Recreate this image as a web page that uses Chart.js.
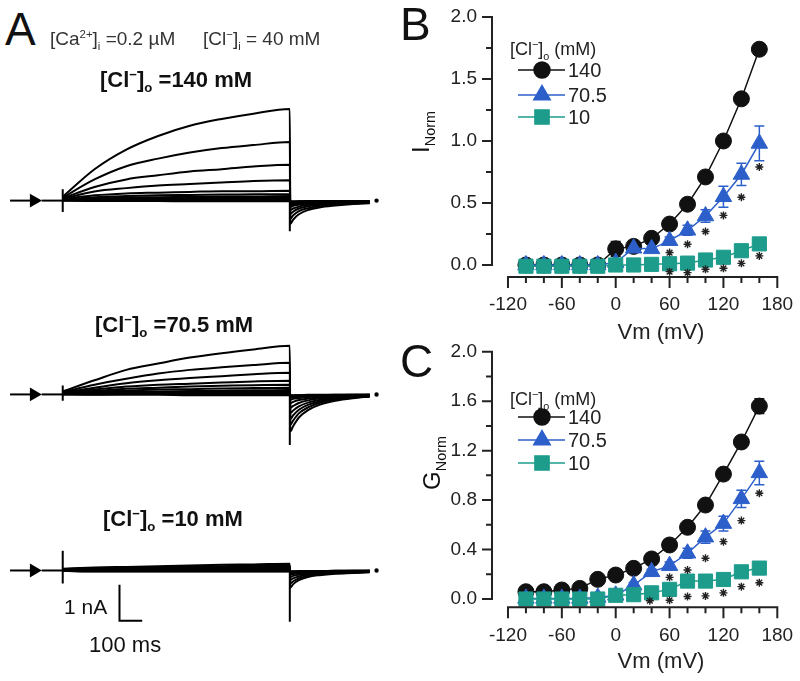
<!DOCTYPE html>
<html>
<head>
<meta charset="utf-8">
<script src="https://cdn.jsdelivr.net/npm/chart.js@4.4.1/dist/chart.umd.min.js"></script>
<style>
  body { margin: 0; background: #fff; }
  #fig { position: relative; width: 800px; height: 681px; overflow: hidden;
         font-family: 'Liberation Sans', Arial, sans-serif; color: #111; }
  #fig canvas { position: absolute; }
  .t { position: absolute; white-space: nowrap; line-height: 1; }
  .t sub, .t sup { font-size: 0.6em; line-height: 0; }
  .rot { transform: translate(-50%, -50%) rotate(-90deg); }
  .ctr { transform: translateX(-50%); }
</style>
</head>
<body>
<div id="fig">
  <canvas id="a140" width="400" height="160" style="left:0;top:90px"></canvas>
  <canvas id="a70" width="400" height="140" style="left:0;top:320px"></canvas>
  <canvas id="a10" width="400" height="110" style="left:0;top:530px"></canvas>
  <canvas id="chartB" width="400" height="340" style="left:400px;top:0"></canvas>
  <canvas id="chartC" width="400" height="341" style="left:400px;top:340px"></canvas>

  <div class="t" style="left:5px;top:6px;font-size:46px">A</div>
  <div class="t" style="left:50px;top:29px;font-size:19px;color:#333">[Ca<sup>2+</sup>]<sub>i</sub> =0.2 µM</div>
  <div class="t" style="left:203px;top:29px;font-size:19px;color:#333">[Cl<sup>−</sup>]<sub>i</sub> = 40 mM</div>
  <div class="t" style="left:100px;top:69px;font-size:22px;font-weight:bold">[Cl<sup>−</sup>]<sub>o</sub> =140 mM</div>
  <div class="t" style="left:95px;top:314px;font-size:22px;font-weight:bold">[Cl<sup>−</sup>]<sub>o</sub> =70.5 mM</div>
  <div class="t" style="left:103px;top:508px;font-size:22px;font-weight:bold">[Cl<sup>−</sup>]<sub>o</sub> =10 mM</div>
  <div class="t" style="left:64px;top:596px;font-size:21px">1 nA</div>
  <div class="t" style="left:89px;top:634px;font-size:22px">100 ms</div>

  <div class="t" style="left:400px;top:1px;font-size:46px">B</div>
  <div class="t" style="left:510px;top:40px;font-size:18px;color:#222">[Cl<sup>−</sup>]<sub>o</sub> (mM)</div>
  <div class="t rot" style="left:421px;top:132px;font-size:24px">I<sub>Norm</sub></div>
  <div class="t ctr" style="left:661px;top:321px;font-size:22px;color:#222">Vm (mV)</div>

  <div class="t" style="left:400px;top:338px;font-size:46px">C</div>
  <div class="t" style="left:510px;top:390px;font-size:18px;color:#222">[Cl<sup>−</sup>]<sub>o</sub> (mM)</div>
  <div class="t rot" style="left:432px;top:463px;font-size:24px">G<sub>Norm</sub></div>
  <div class="t ctr" style="left:661px;top:650px;font-size:22px;color:#222">Vm (mV)</div>
</div>

<script>
Chart.defaults.font.family = "'Liberation Sans', Arial, sans-serif";
Chart.defaults.animation = false;

// ---------- panel A: current traces (time in ms, current in nA) ----------
const stepTimes = [0, 140, 280, 420, 560, 700, 840, 1000];
const tailTimes = [1002, 1015, 1040, 1080, 1130, 1200, 1280, 1352];

const step140 = [
  [0.10, 0.83, 1.35, 1.71, 1.98, 2.16, 2.30, 2.42],
  [0.08, 0.56, 0.91, 1.11, 1.27, 1.39, 1.47, 1.55],
  [0.06, 0.36, 0.56, 0.67, 0.77, 0.83, 0.90, 0.95],
  [0.05, 0.24, 0.33, 0.40, 0.44, 0.48, 0.52, 0.54],
  [0.04, 0.14, 0.19, 0.21, 0.23, 0.25, 0.25, 0.26],
  [0.03, 0.09, 0.12, 0.14, 0.15, 0.16, 0.17, 0.17],
  [0.02, 0.06, 0.08, 0.09, 0.10, 0.11, 0.11, 0.12],
  [0.02, 0.04, 0.05, 0.06, 0.07, 0.07, 0.08, 0.08],
  [0.01, 0.03, 0.03, 0.04, 0.04, 0.05, 0.05, 0.05],
  [0.01, 0.01, 0.02, 0.02, 0.02, 0.03, 0.03, 0.03],
  [0.00, 0.00, 0.01, 0.01, 0.01, 0.01, 0.01, 0.01],
  [0.00, -0.01, -0.01, -0.01, -0.02, -0.02, -0.02, -0.02]
];
const tail140 = [
  [-0.62, -0.50, -0.36, -0.25, -0.18, -0.13, -0.09, -0.07],
  [-0.48, -0.39, -0.28, -0.20, -0.14, -0.10, -0.08, -0.06],
  [-0.35, -0.29, -0.21, -0.15, -0.11, -0.08, -0.06, -0.05],
  [-0.25, -0.21, -0.16, -0.11, -0.08, -0.06, -0.05, -0.04],
  [-0.17, -0.14, -0.11, -0.08, -0.06, -0.05, -0.04, -0.03],
  [-0.12, -0.10, -0.08, -0.06, -0.05, -0.04, -0.03, -0.03],
  [-0.09, -0.08, -0.06, -0.05, -0.04, -0.03, -0.03, -0.02],
  [-0.07, -0.06, -0.05, -0.04, -0.03, -0.03, -0.02, -0.02],
  [-0.05, -0.05, -0.04, -0.03, -0.03, -0.02, -0.02, -0.02],
  [-0.04, -0.04, -0.03, -0.03, -0.02, -0.02, -0.02, -0.01],
  [-0.03, -0.03, -0.02, -0.02, -0.02, -0.01, -0.01, -0.01],
  [-0.02, -0.02, -0.02, -0.01, -0.01, -0.01, -0.01, -0.01]
];

const step70 = [
  [0.08, 0.38, 0.66, 0.83, 0.99, 1.11, 1.21, 1.31],
  [0.06, 0.26, 0.42, 0.56, 0.66, 0.73, 0.79, 0.85],
  [0.05, 0.18, 0.30, 0.38, 0.44, 0.49, 0.54, 0.58],
  [0.04, 0.13, 0.21, 0.26, 0.29, 0.32, 0.35, 0.37],
  [0.03, 0.09, 0.15, 0.18, 0.21, 0.23, 0.25, 0.26],
  [0.03, 0.07, 0.10, 0.13, 0.14, 0.16, 0.17, 0.18],
  [0.02, 0.05, 0.07, 0.08, 0.09, 0.10, 0.11, 0.12],
  [0.02, 0.03, 0.05, 0.05, 0.06, 0.07, 0.07, 0.08],
  [0.01, 0.02, 0.03, 0.03, 0.04, 0.04, 0.05, 0.05],
  [0.01, 0.01, 0.02, 0.02, 0.02, 0.03, 0.03, 0.03],
  [0.00, 0.00, 0.01, 0.01, 0.01, 0.01, 0.01, 0.01],
  [0.00, -0.01, -0.01, -0.01, -0.02, -0.02, -0.02, -0.02]
];
const tail70 = [
  [-1.00, -0.85, -0.62, -0.42, -0.28, -0.17, -0.10, -0.06],
  [-0.82, -0.70, -0.51, -0.35, -0.23, -0.14, -0.09, -0.05],
  [-0.66, -0.56, -0.41, -0.28, -0.19, -0.12, -0.08, -0.05],
  [-0.50, -0.43, -0.32, -0.22, -0.15, -0.10, -0.07, -0.04],
  [-0.36, -0.31, -0.23, -0.16, -0.11, -0.08, -0.05, -0.04],
  [-0.24, -0.20, -0.15, -0.11, -0.08, -0.06, -0.04, -0.03],
  [-0.14, -0.12, -0.10, -0.07, -0.05, -0.04, -0.03, -0.02],
  [-0.09, -0.08, -0.06, -0.05, -0.04, -0.03, -0.02, -0.02],
  [-0.06, -0.05, -0.04, -0.04, -0.03, -0.02, -0.02, -0.01],
  [-0.04, -0.04, -0.03, -0.03, -0.02, -0.02, -0.01, -0.01],
  [-0.03, -0.03, -0.02, -0.02, -0.02, -0.01, -0.01, -0.01],
  [-0.02, -0.02, -0.02, -0.01, -0.01, -0.01, -0.01, -0.01]
];

const step10 = [
  [0.05, 0.08, 0.10, 0.12, 0.14, 0.16, 0.17, 0.19],
  [0.04, 0.07, 0.08, 0.10, 0.11, 0.12, 0.13, 0.14],
  [0.03, 0.05, 0.06, 0.07, 0.08, 0.09, 0.10, 0.10],
  [0.02, 0.04, 0.05, 0.05, 0.06, 0.06, 0.07, 0.07],
  [0.02, 0.03, 0.03, 0.04, 0.04, 0.04, 0.05, 0.05],
  [0.01, 0.02, 0.02, 0.03, 0.03, 0.03, 0.03, 0.03],
  [0.01, 0.01, 0.01, 0.02, 0.02, 0.02, 0.02, 0.02],
  [0.00, 0.01, 0.01, 0.01, 0.01, 0.01, 0.01, 0.01],
  [0.00, 0.00, 0.00, 0.00, 0.00, 0.00, 0.00, 0.00],
  [0.00, -0.01, -0.01, -0.01, -0.01, -0.01, -0.01, -0.01],
  [-0.01, -0.02, -0.02, -0.02, -0.02, -0.02, -0.02, -0.02],
  [-0.01, -0.03, -0.03, -0.03, -0.03, -0.03, -0.03, -0.03]
];
const tail10 = [
  [-0.48, -0.38, -0.27, -0.18, -0.13, -0.09, -0.07, -0.05],
  [-0.36, -0.30, -0.22, -0.15, -0.11, -0.08, -0.06, -0.04],
  [-0.26, -0.22, -0.17, -0.12, -0.09, -0.07, -0.05, -0.04],
  [-0.18, -0.15, -0.12, -0.09, -0.07, -0.05, -0.04, -0.03],
  [-0.12, -0.10, -0.08, -0.06, -0.05, -0.04, -0.03, -0.03],
  [-0.09, -0.08, -0.06, -0.05, -0.04, -0.03, -0.03, -0.02],
  [-0.07, -0.06, -0.05, -0.04, -0.03, -0.03, -0.02, -0.02],
  [-0.05, -0.05, -0.04, -0.03, -0.03, -0.02, -0.02, -0.02],
  [-0.04, -0.04, -0.03, -0.03, -0.02, -0.02, -0.02, -0.01],
  [-0.03, -0.03, -0.03, -0.02, -0.02, -0.02, -0.01, -0.01],
  [-0.03, -0.03, -0.02, -0.02, -0.02, -0.01, -0.01, -0.01],
  [-0.03, -0.03, -0.02, -0.02, -0.02, -0.01, -0.01, -0.01]
];

// capacitive transients at step on / step off (nA)
const onSpike140 = [0.30, -0.30], offSpike140 = -0.81;
const onSpike70 = [0.24, -0.17], offSpike70 = -1.36;
const onSpike10 = [0.55, -0.36], offSpike10 = -1.43;

// holding segment, arrow and end dot (ms)
const arrowTimes = [-232, -127];
const holdTimes = [-93, 0];
const endDotTime = 1382;

// scale bar: 100 ms, 1 nA
const scaleBarT = [250, 250, 350];
const scaleBarI = [-0.4, -1.4, -1.4];

// ---------- panels B, C ----------
const vm = [-100, -80, -60, -40, -20, 0, 20, 40, 60, 80, 100, 120, 140, 160];
const legendNames = ['140', '70.5', '10'];

const iNorm140 = [0, 0, 0, 0, 0, 0.13, 0.15, 0.215, 0.33, 0.49, 0.71, 1.0, 1.34, 1.74];
const iNorm70 = [0, 0, 0, 0, 0, 0.02, 0.135, 0.13, 0.196, 0.28, 0.395, 0.55, 0.73, 0.98];
const iNorm10 = [-0.01, -0.01, -0.01, -0.01, -0.01, 0, 0, 0.005, 0.01, 0.015, 0.04, 0.062, 0.115, 0.17];
const iErr140 = [0, 0, 0, 0, 0, 0.06, 0.02, 0.02, 0.02, 0.02, 0.02, 0.02, 0.02, 0.02];
const iErr70 = [0.01, 0.01, 0.01, 0.01, 0.01, 0.01, 0.02, 0.02, 0.03, 0.04, 0.05, 0.085, 0.09, 0.14];
const iErr10 = [0, 0, 0, 0, 0, 0.01, 0.01, 0.01, 0.01, 0.01, 0.02, 0.02, 0.02, 0.03];
const iStarVm70 = [60, 80, 100, 120, 140, 160];
const iStar70 = [0.10, 0.167, 0.27, 0.40, 0.546, 0.79];
const iStarVm10 = [60, 80, 100, 120, 140, 160];
const iStar10 = [-0.054, -0.062, -0.035, -0.027, 0.013, 0.073];

const gNorm140 = [0.059, 0.059, 0.073, 0.086, 0.159, 0.194, 0.248, 0.324, 0.437, 0.58, 0.76, 1.01, 1.27, 1.56];
const gNorm70 = [0.005, 0.005, 0.005, 0.005, 0.013, 0.03, 0.113, 0.22, 0.27, 0.37, 0.5, 0.61, 0.81, 1.02];
const gNorm10 = [0, 0, 0, 0, 0, 0.03, 0.035, 0.05, 0.078, 0.145, 0.145, 0.158, 0.22, 0.25];
const gErr140 = [0.01, 0.01, 0.01, 0.01, 0.01, 0.01, 0.01, 0.01, 0.02, 0.02, 0.02, 0.03, 0.03, 0.06];
const gErr70 = [0, 0, 0, 0, 0, 0.01, 0.02, 0.02, 0.03, 0.04, 0.05, 0.06, 0.07, 0.095];
const gErr10 = [0, 0, 0, 0, 0, 0.01, 0.01, 0.01, 0.01, 0.02, 0.02, 0.02, 0.02, 0.02];
const gStarVm70 = [60, 80, 100, 120, 140, 160];
const gStar70 = [0.175, 0.235, 0.33, 0.464, 0.634, 0.855];
const gStarVm10 = [38, 60, 80, 100, 120, 140, 160];
const gStar10 = [-0.014, -0.01, 0.02, 0.025, 0.05, 0.1, 0.132];

// axis ticks
const vmTicks = [-120, -100, -80, -60, -40, -20, 0, 20, 40, 60, 80, 100, 120, 140, 160, 180];
const vmLabels = [-120, -60, 0, 60, 120, 180];
const iTicks = [0, 0.25, 0.5, 0.75, 1.0, 1.25, 1.5, 1.75, 2.0];
const iLabels = [0, 0.5, 1.0, 1.5, 2.0];
const gTicks = [0, 0.2, 0.4, 0.6, 0.8, 1.0, 1.2, 1.4, 1.6, 1.8, 2.0];
const gLabels = [0, 0.4, 0.8, 1.2, 1.6, 2.0];

const BLACK = '#111111', BLUE = '#2c5fc9', TEAL = '#1d9c8c';

// ---------- panel A builder ----------
function pts(xs, ys) { return xs.map((x, i) => ({ x: x, y: ys[i] })); }

function traceChart(id, steps, tails, onSpike, offSpike, yMin, yMax, withBar) {
  const sets = steps.map((s, i) => ({
    data: pts(stepTimes, s).concat(pts(tailTimes, tails[i])),
    borderColor: '#000', borderWidth: 2, pointRadius: 0,
    cubicInterpolationMode: 'monotone'
  }));
  const plain = { borderColor: '#000', backgroundColor: '#000', borderWidth: 2, pointRadius: 0 };
  sets.push(Object.assign({ data: pts(holdTimes, [0, 0]) }, plain));
  sets.push(Object.assign({ data: pts([0, 0], onSpike) }, plain));
  sets.push(Object.assign({ data: pts([1000, 1000], [0, offSpike]) }, plain));
  sets.push(Object.assign({}, plain, {
    data: pts(arrowTimes, [0, 0]), borderWidth: 2,
    pointRadius: [0, 6], pointStyle: 'triangle', pointRotation: 90
  }));
  sets.push(Object.assign({}, plain, { data: [{ x: endDotTime, y: 0 }], pointRadius: 1.2 }));
  if (withBar) {
    sets.push(Object.assign({}, plain, { data: pts(scaleBarT, scaleBarI), borderWidth: 2 }));
  }
  sets.forEach(d => { d.clip = false; });
  return new Chart(document.getElementById(id), {
    type: 'line',
    data: { datasets: sets },
    options: {
      responsive: false, animation: false, devicePixelRatio: 1,
      layout: { padding: 0 },
      plugins: { legend: { display: false }, tooltip: { enabled: false } },
      scales: {
        x: { type: 'linear', min: -241, max: 1450, display: false },
        y: { min: yMin, max: yMax, display: false }
      }
    }
  });
}

traceChart('a140', step140, tail140, onSpike140, offSpike140, -1.095, 2.714, false);
traceChart('a70', step70, tail70, onSpike70, offSpike70, -1.548, 1.786, false);
traceChart('a10', step10, tail10, onSpike10, offSpike10, -1.714, 0.905, true);

// ---------- panels B / C builder ----------
function ivChart(id, cfg) {
  const styles = [
    { color: BLACK, pointStyle: 'circle', radius: 8 },
    { color: BLUE, pointStyle: 'triangle', radius: 9.5 },
    { color: TEAL, pointStyle: 'rect', radius: 10 }
  ];
  const sets = cfg.series.map((vals, k) => ({
    label: legendNames[k],
    data: pts(vm, vals),
    borderColor: styles[k].color, backgroundColor: styles[k].color,
    borderWidth: 1.5, pointStyle: styles[k].pointStyle, pointRadius: styles[k].radius,
    pointBorderWidth: 1, order: 3 - k, clip: false
  }));
  cfg.stars.forEach(st => sets.push({
    data: pts(st[0], st[1]), showLine: false,
    borderColor: '#222', backgroundColor: '#222',
    pointStyle: 'star', pointRadius: 4, pointBorderWidth: 1.4, order: 0, clip: false
  }));

  const axesPlugin = {
    id: 'ivAxes',
    beforeDatasetsDraw(chart) {
      const ctx = chart.ctx, xs = chart.scales.x, ys = chart.scales.y;
      ctx.save();
      ctx.lineWidth = 1.5;
      cfg.errors.forEach((err, k) => {
        ctx.strokeStyle = styles[k].color;
        vm.forEach((v, i) => {
          if (!err[i]) return;
          const px = xs.getPixelForValue(v);
          const top = ys.getPixelForValue(cfg.series[k][i] + err[i]);
          const bot = ys.getPixelForValue(cfg.series[k][i] - err[i]);
          ctx.beginPath();
          ctx.moveTo(px, top); ctx.lineTo(px, bot);
          ctx.moveTo(px - 5, top); ctx.lineTo(px + 5, top);
          ctx.moveTo(px - 5, bot); ctx.lineTo(px + 5, bot);
          ctx.stroke();
        });
      });
      ctx.restore();
    },
    afterDraw(chart) {
      const ctx = chart.ctx, xs = chart.scales.x, ys = chart.scales.y;
      const axisY = chart.chartArea.bottom, axisX = chart.chartArea.left;
      ctx.save();
      ctx.strokeStyle = '#222';
      ctx.fillStyle = '#222';
      ctx.lineWidth = 2;
      // x axis
      ctx.beginPath();
      ctx.moveTo(xs.getPixelForValue(vmTicks[0]) - 1, axisY);
      ctx.lineTo(xs.getPixelForValue(vmTicks[vmTicks.length - 1]) + 1, axisY);
      vmTicks.forEach(v => {
        const px = xs.getPixelForValue(v);
        ctx.moveTo(px, axisY);
        ctx.lineTo(px, axisY + (vmLabels.includes(v) ? 11 : 6));
      });
      // y axis
      ctx.moveTo(axisX, ys.getPixelForValue(cfg.yTicks[0]) + 1);
      ctx.lineTo(axisX, ys.getPixelForValue(cfg.yTicks[cfg.yTicks.length - 1]) - 1);
      cfg.yTicks.forEach(v => {
        const py = ys.getPixelForValue(v);
        ctx.moveTo(axisX, py);
        ctx.lineTo(axisX - (cfg.yLabels.includes(v) ? 10 : 6), py);
      });
      ctx.stroke();
      // labels
      ctx.font = "19px 'Liberation Sans', Arial, sans-serif";
      ctx.textAlign = 'center';
      ctx.textBaseline = 'middle';
      vmLabels.forEach(v => ctx.fillText(String(v), xs.getPixelForValue(v), axisY + 28));
      ctx.textAlign = 'right';
      cfg.yLabels.forEach(v => ctx.fillText(v.toFixed(1), axisX - 15, ys.getPixelForValue(v)));
      // legend
      ctx.font = "20px 'Liberation Sans', Arial, sans-serif";
      ctx.textAlign = 'left';
      cfg.legendY.forEach((ly, k) => {
        const st = styles[k];
        ctx.strokeStyle = st.color; ctx.fillStyle = st.color; ctx.lineWidth = 1.5;
        ctx.beginPath(); ctx.moveTo(118, ly); ctx.lineTo(165, ly); ctx.stroke();
        Chart.helpers.drawPoint(ctx, { pointStyle: st.pointStyle, radius: st.radius, rotation: 0, borderWidth: 1 }, 142, ly);
        ctx.fillStyle = '#222';
        ctx.fillText(legendNames[k], 168, ly + 1);
      });
      ctx.restore();
    }
  };

  return new Chart(document.getElementById(id), {
    type: 'line',
    data: { datasets: sets },
    options: {
      responsive: false, animation: false, devicePixelRatio: 1,
      layout: { padding: cfg.padding },
      plugins: { legend: { display: false }, tooltip: { enabled: false } },
      scales: {
        x: { type: 'linear', min: -137.8, max: 180, display: false },
        y: { min: cfg.yMin, max: 2.0, display: false }
      }
    },
    plugins: [axesPlugin]
  });
}

ivChart('chartB', {
  series: [iNorm140, iNorm70, iNorm10],
  errors: [iErr140, iErr70, iErr10],
  stars: [[iStarVm70, iStar70], [iStarVm10, iStar10]],
  yTicks: iTicks, yLabels: iLabels, yMin: -0.097,
  padding: { left: 92, right: 22.7, top: 17, bottom: 63 },
  legendY: [70, 95, 117]
});

ivChart('chartC', {
  series: [gNorm140, gNorm70, gNorm10],
  errors: [gErr140, gErr70, gErr10],
  stars: [[gStarVm70, gStar70], [gStarVm10, gStar10]],
  yTicks: gTicks, yLabels: gLabels, yMin: -0.067,
  padding: { left: 92, right: 22.7, top: 11.7, bottom: 73.7 },
  legendY: [77, 100, 123]
});
</script>
</body>
</html>
